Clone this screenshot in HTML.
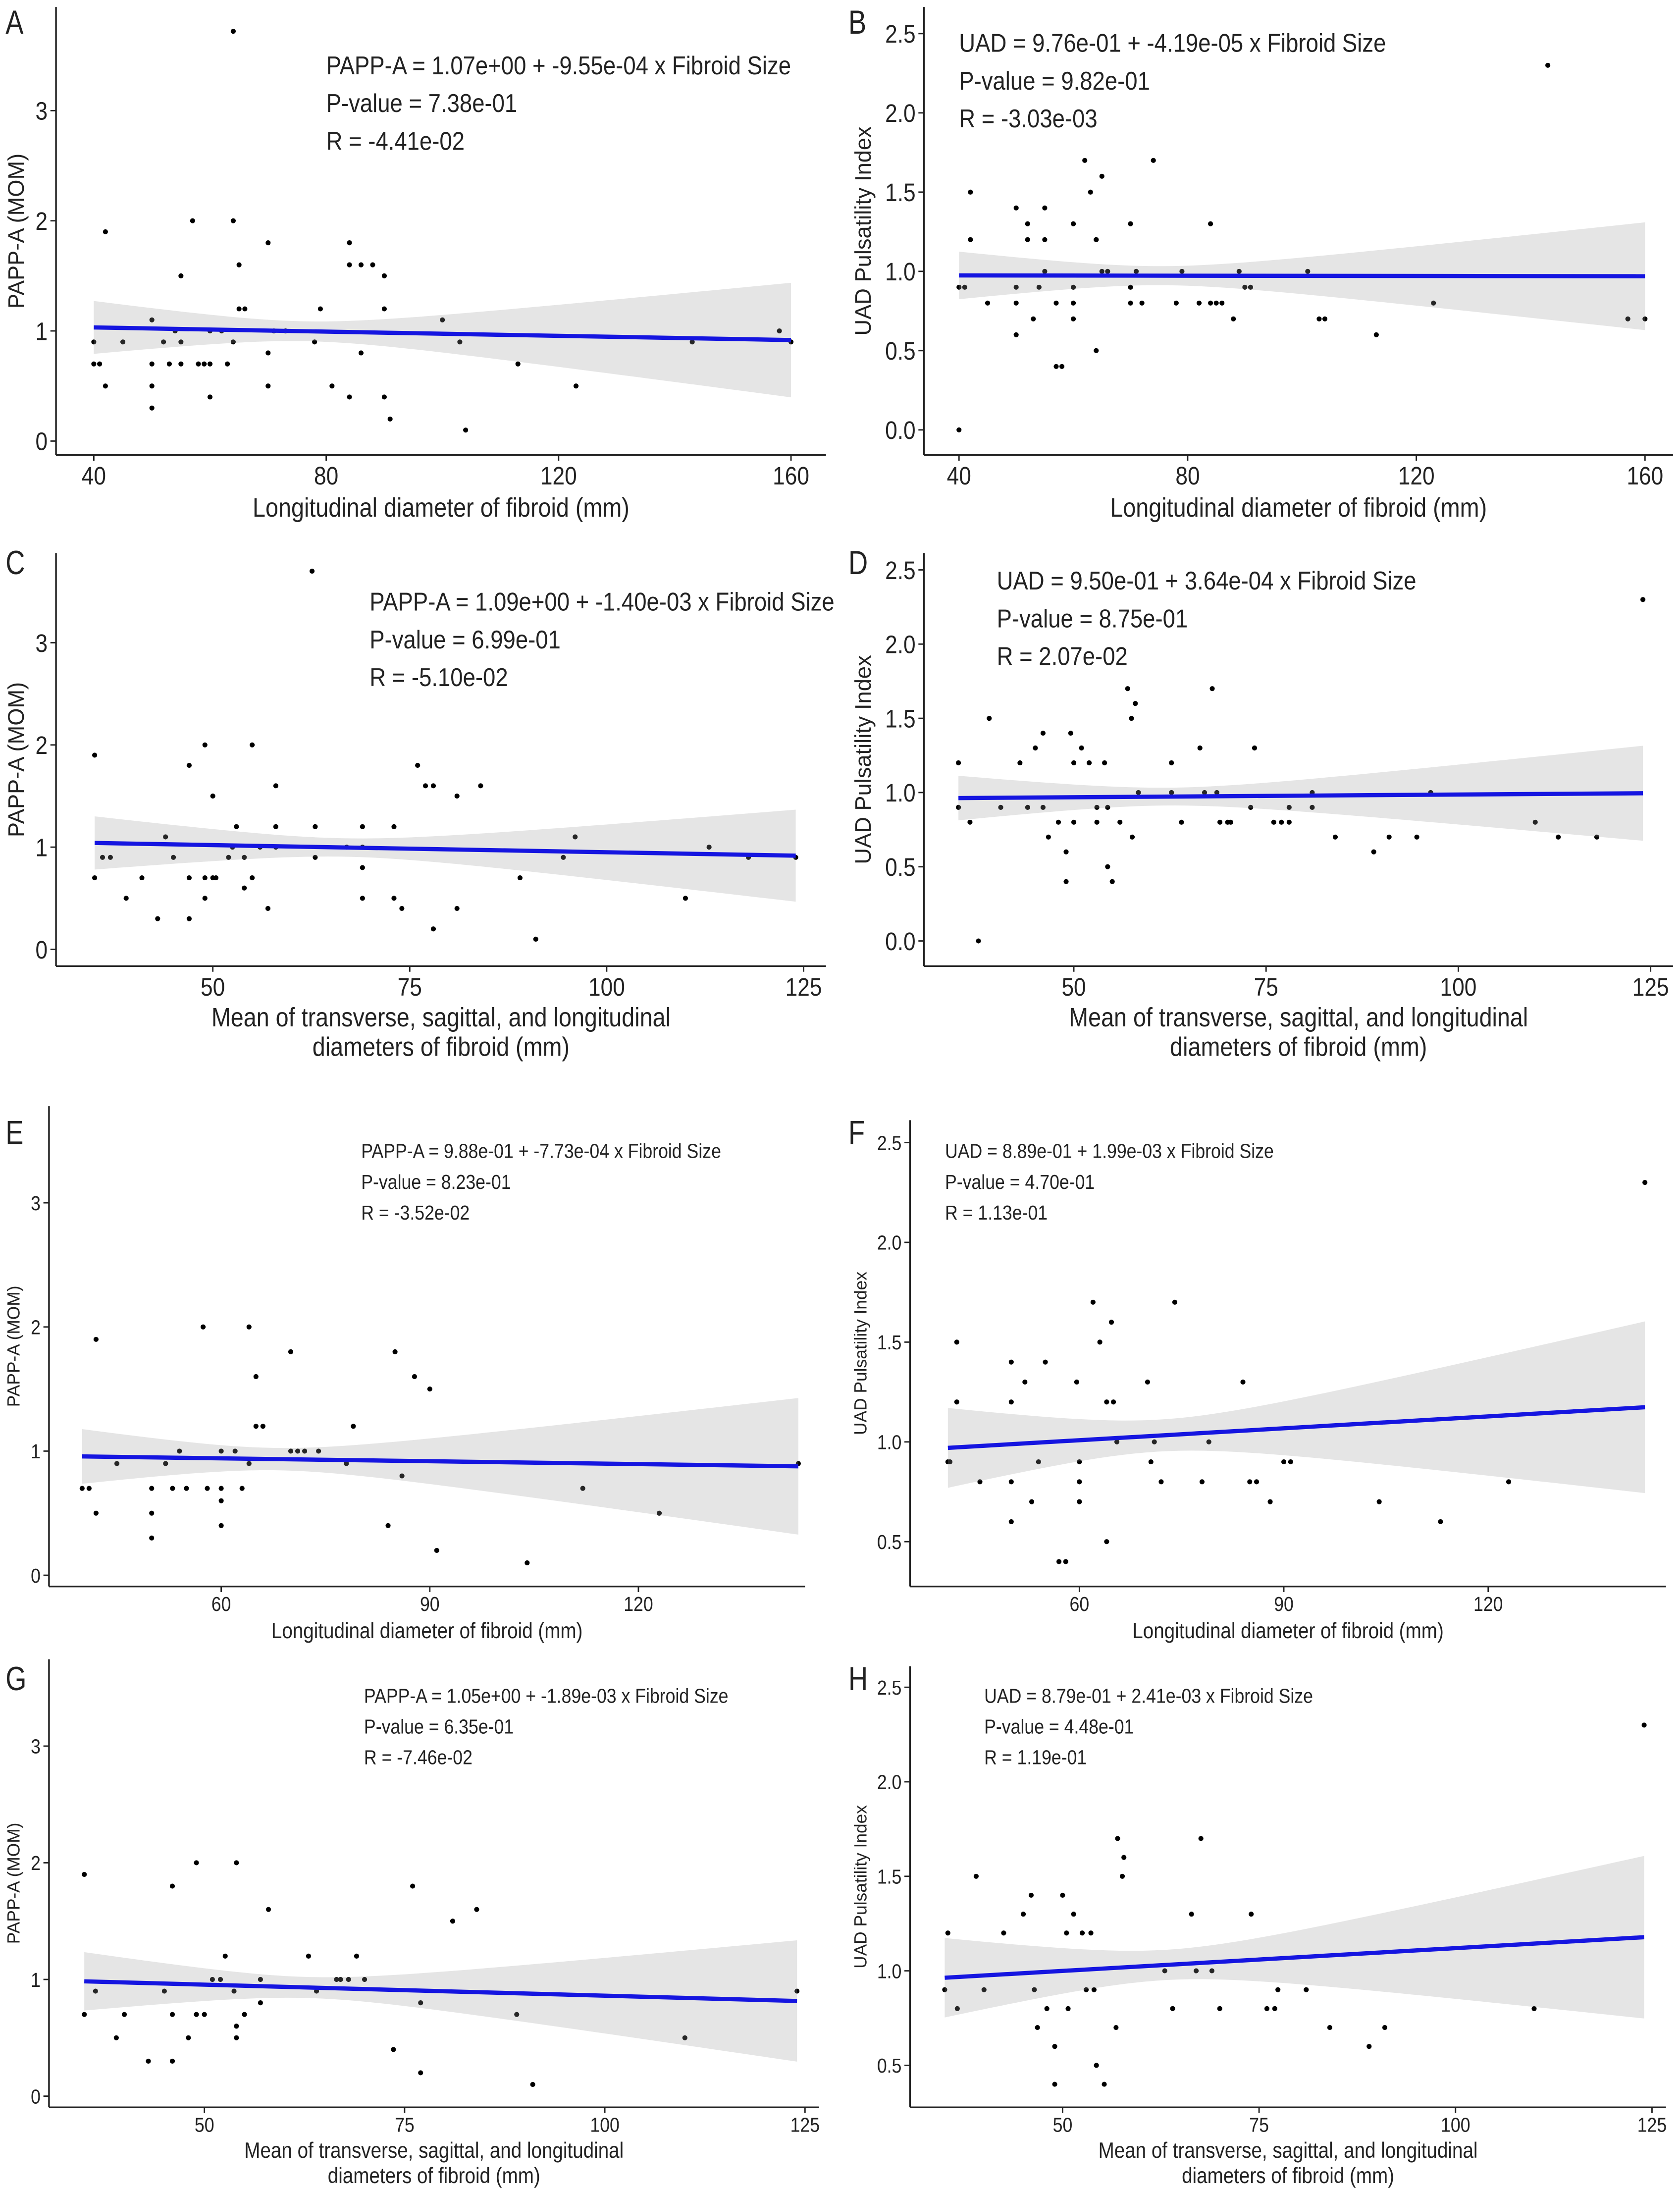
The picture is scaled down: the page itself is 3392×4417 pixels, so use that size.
<!DOCTYPE html>
<html><head><meta charset="utf-8"><style>
html,body{margin:0;padding:0;background:#fff;}
svg{display:block;}
text{font-family:"Liberation Sans Narrow","Liberation Sans",sans-serif;fill:#222;}
.yt{font-family:"Liberation Sans",sans-serif;}
</style></head><body>
<svg id="fig" xmlns="http://www.w3.org/2000/svg" width="3392" height="4417" viewBox="0 0 1200 1562.6" preserveAspectRatio="none"></svg>
<script>
// ---- data ----
const aX=[64,42,57,64,65,55,70,65,66,79,84,86,88,84,90,90,40,45,50,52,55,54,60,62,64,71,73,78,86,100,103,143,158,160,40,41,50,53,55,58,59,60,63,60,70,81,84,90,91,50,42,50,104,113,123,70];
const aY=[3.72,1.9,2.0,2.0,1.6,1.5,1.8,1.2,1.2,1.2,1.6,1.6,1.6,1.8,1.5,1.2,0.9,0.9,1.1,0.9,0.9,1.0,1.0,1.0,0.9,1.0,1.0,0.9,0.8,1.1,0.9,0.9,1.0,0.9,0.7,0.7,0.7,0.7,0.7,0.7,0.7,0.7,0.7,0.4,0.5,0.5,0.4,0.4,0.2,0.5,0.5,0.3,0.1,0.7,0.5,0.8];
const bX=[143,40,40,41,42,42,45,50,50,50,50,52,52,53,54,55,55,55,57,57,58,60,60,60,60,62,63,64,64,64,65,65,66,70,70,70,71,72,74,78,79,82,84,84,85,86,88,89,90,91,101,103,104,113,123,157,160];
const bY=[2.3,0.0,0.9,0.9,1.2,1.5,0.8,1.4,0.9,0.8,0.6,1.3,1.2,0.7,0.9,1.0,1.2,1.4,0.8,0.4,0.4,1.3,0.8,0.9,0.7,1.7,1.5,1.2,1.2,0.5,1.6,1.0,1.0,1.3,0.9,0.8,1.0,0.8,1.7,0.8,1.0,0.8,1.3,0.8,0.8,0.8,0.7,1.0,0.9,0.9,1.0,0.7,0.7,0.6,0.8,0.7,0.7];
const cX=[62.6,35,49,55,47,50,58,76,77,78,81,84,53,58,63,69,73,44,96,113,35,36,37,39,41,43,45,47,47,49,49,50,50.4,52,52.5,54,54,55,56,57,58,63,67,69,69,69,73,74,78,81,89,91,94.5,110,118,124];
const cY=[3.7,1.9,2.0,2.0,1.8,1.5,1.6,1.8,1.6,1.6,1.5,1.6,1.2,1.2,1.2,1.2,1.2,1.1,1.1,1.0,0.7,0.9,0.9,0.5,0.7,0.3,0.9,0.7,0.3,0.5,0.7,0.7,0.7,0.9,1.0,0.9,0.6,0.7,1.0,0.4,1.0,0.9,1.0,1.0,0.8,0.5,0.5,0.4,0.2,0.4,0.7,0.1,0.9,0.5,0.9,0.9];
const dX=[124,35,35,36.5,37.6,39,40.5,43,44,45,46,46,46.7,48,49,49,49.6,50,50,51,52,53,53,54,54.4,54.4,55,56,57,57.5,58,57.6,58.4,62.7,62.7,64,66.4,67,68,68.6,69,70,70.4,73.5,73,76,77,78,78,81,81,84,89,91,94.6,96.4,110,113,118];
const dY=[2.3,1.2,0.9,0.8,0.0,1.5,0.9,1.2,0.9,1.3,1.4,0.9,0.7,0.8,0.6,0.4,1.4,1.2,0.8,1.3,1.2,0.9,0.8,1.2,0.9,0.5,0.4,0.8,1.7,1.5,1.6,0.7,1.0,1.0,1.2,0.8,1.3,1.0,1.7,1.0,0.8,0.8,0.8,1.3,0.9,0.8,0.8,0.8,0.9,1.0,0.9,0.7,0.6,0.7,0.7,1.0,0.8,0.7,0.7];
const eX=[42,57.4,64,70,85,65,87.8,90,65,66,79,40,41,45,50,52,53,54,55,58,60,60,62,63,64,70,71,72,74,78,86,143,112,123,42,50,50,60,60,84,91,104];
const eY=[1.9,2.0,2.0,1.8,1.8,1.6,1.6,1.5,1.2,1.2,1.2,0.7,0.7,0.9,0.7,0.9,0.7,1.0,0.7,0.7,1.0,0.7,1.0,0.7,0.9,1.0,1.0,1.0,1.0,0.9,0.8,0.9,0.7,0.5,0.5,0.5,0.3,0.6,0.4,0.4,0.2,0.1];
const fX=[143,42,42,40.7,41,45.4,50,50,50,50,52,53,54,55,57,58,59.6,60,60,60,62,63,64,65,64.7,64,65.5,70,70.5,71,72,74,78,79,84,85,86,88,90,91,104,113,123];
const fY=[2.3,1.5,1.2,0.9,0.9,0.8,1.4,1.2,0.8,0.6,1.3,0.7,0.9,1.4,0.4,0.4,1.3,0.8,0.9,0.7,1.7,1.5,1.2,1.2,1.6,0.5,1.0,1.3,0.9,1.0,0.8,1.7,0.8,1.0,1.3,0.8,0.8,0.7,0.9,0.9,0.7,0.6,0.8];
const gX=[35,49,54,46,76,58,84,81,52.6,63,69,51,52,57,66.5,67,68,70,36.4,45,53.7,64,124,77,35,40,46,49,50,55,57,89,39,48,110,54,54,43,46,73.6,77,91];
const gY=[1.9,2.0,2.0,1.8,1.8,1.6,1.6,1.5,1.2,1.2,1.2,1.0,1.0,1.0,1.0,1.0,1.0,1.0,0.9,0.9,0.9,0.9,0.9,0.8,0.7,0.7,0.7,0.7,0.7,0.7,0.8,0.7,0.5,0.5,0.5,0.6,0.5,0.3,0.3,0.4,0.2,0.1];
const hX=[124,35.4,35,36.6,39,40,42.5,45,46,46.4,46.8,48,49,49,50,50.5,50.7,51.4,52.5,53,53.6,54,54.3,55.3,56.8,57,57.6,57.8,63,64,66.4,67,67.6,69,70,74,76,77,77.4,81,84,89,91,110];
const hY=[2.3,1.2,0.9,0.8,1.5,0.9,1.2,1.3,1.4,0.9,0.7,0.8,0.6,0.4,1.4,1.2,0.8,1.3,1.2,0.9,1.2,0.9,0.5,0.4,0.7,1.7,1.5,1.6,1.0,0.8,1.3,1.0,1.7,1.0,0.8,1.3,0.8,0.8,0.9,0.9,0.7,0.6,0.7,0.8];
// regression [intercept, slope]
const fitA=[1.07,-9.55e-4], fitB=[0.976,-4.19e-5], fitC=[1.09,-1.40e-3], fitD=[0.950,3.64e-4];
const fitE=[0.988,-7.73e-4], fitF=[0.889,1.99e-3], fitG=[1.05,-1.89e-3], fitH=[0.879,2.41e-3];
// confidence band half-widths [left, minimum, right]
const bandA=[0.24,0.09,0.52], bandB=[0.15,0.06,0.34], bandC=[0.26,0.09,0.45], bandD=[0.15,0.06,0.32];
const bandE=[0.22,0.09,0.55], bandF=[0.2,0.08,0.43], bandG=[0.25,0.09,0.52], bandH=[0.21,0.08,0.43];
// ticks
const xTicksA=[40,80,120,160], yTicksA=[0,1,2,3];
const xTicksB=[40,80,120,160], yTicksB=[0,0.5,1,1.5,2,2.5];
const xTicksC=[50,75,100,125], yTicksC=[0,1,2,3];
const xTicksD=[50,75,100,125], yTicksD=[0,0.5,1,1.5,2,2.5];
const xTicksE=[60,90,120], yTicksE=[0,1,2,3];
const xTicksF=[60,90,120], yTicksF=[0.5,1,1.5,2,2.5];
const xTicksG=[50,75,100,125], yTicksG=[0,1,2,3];
const xTicksH=[50,75,100,125], yTicksH=[0.5,1,1.5,2,2.5];

const NS='http://www.w3.org/2000/svg';
const svg=document.getElementById('fig');
const SX=0.87;
function mk(tag,attrs,parent){const e=document.createElementNS(NS,tag);for(const k in attrs)e.setAttribute(k,attrs[k]);(parent||svg).appendChild(e);return e;}
function tx(x,y,attrs,parent,sx){const t=mk('text',attrs,parent);t.setAttribute('transform','translate('+x+' '+y+') scale('+(sx||SX)+' 1)');return t;}

const T='PAPP-A (MOM)', U='UAD Pulsatility Index';
const L1='Longitudinal diameter of fibroid (mm)';
const L2=['Mean of transverse, sagittal, and longitudinal','diameters of fibroid (mm)'];
const panels=[
 {k:'a',x:aX,y:aY,fit:fitA,band:bandA,xt:xTicksA,yt:yTicksA,L:40,R:590,T:5,B:325,xm:[40,67,160,565],ym:[0,315,3,79],fs:18,xfs:19,yfmt:0,
  eq:['PAPP-A =  1.07e+00 + -9.55e-04 x Fibroid Size','P-value =  7.38e-01','R =  -4.41e-02'],eqX:233,eqY:[53,80,107],eqFs:17,
  xl:[L1],xlY:[369],ylab:T,ylX:17,lt:'A',lx:4,ly:24},
 {k:'b',x:bX,y:bY,fit:fitB,band:bandB,xt:xTicksB,yt:yTicksB,L:660,R:1195,T:5,B:325,xm:[40,685,160,1175],ym:[0,307,2.5,24],fs:18,xfs:19,yfmt:1,
  eq:['UAD =  9.76e-01 + -4.19e-05 x Fibroid Size','P-value =  9.82e-01','R =  -3.03e-03'],eqX:685,eqY:[37,64,91],eqFs:17,
  xl:[L1],xlY:[369],ylab:U,ylX:622,lt:'B',lx:606,ly:24},
 {k:'c',x:cX,y:cY,fit:fitC,band:bandC,xt:xTicksC,yt:yTicksC,L:40,R:590,T:395,B:690,xm:[50,152,125,574],ym:[0,678,3,459],fs:18,xfs:19,yfmt:0,
  eq:['PAPP-A =  1.09e+00 + -1.40e-03 x Fibroid Size','P-value =  6.99e-01','R =  -5.10e-02'],eqX:264,eqY:[436,463,490],eqFs:17,
  xl:L2,xlY:[733,754],ylab:T,ylX:17,lt:'C',lx:4,ly:410},
 {k:'d',x:dX,y:dY,fit:fitD,band:bandD,xt:xTicksD,yt:yTicksD,L:660,R:1195,T:395,B:690,xm:[50,767,125,1179],ym:[0,672,2.5,407],fs:18,xfs:19,yfmt:1,
  eq:['UAD =  9.50e-01 + 3.64e-04 x Fibroid Size','P-value =  8.75e-01','R =  2.07e-02'],eqX:712,eqY:[421,448,475],eqFs:17,
  xl:L2,xlY:[733,754],ylab:U,ylX:622,lt:'D',lx:606,ly:410},
 {k:'e',x:eX,y:eY,fit:fitE,band:bandE,xt:xTicksE,yt:yTicksE,L:35,R:575,T:790,B:1133,xm:[60,158,120,456],ym:[0,1125,3,859],fs:14.5,xfs:15.7,yfmt:0,
  eq:['PAPP-A =  9.88e-01 + -7.73e-04 x Fibroid Size','P-value =  8.23e-01','R =  -3.52e-02'],eqX:258,eqY:[827,849,871],eqFs:14.5,
  xl:[L1],xlY:[1170],ylab:T,ylX:14,lt:'E',lx:4,ly:817},
 {k:'f',x:fX,y:fY,fit:fitF,band:bandF,xt:xTicksF,yt:yTicksF,L:650,R:1190,T:800,B:1133,xm:[60,771,120,1063],ym:[0.5,1101,2.5,816],fs:14.5,xfs:15.7,yfmt:1,
  eq:['UAD =  8.89e-01 + 1.99e-03 x Fibroid Size','P-value =  4.70e-01','R =  1.13e-01'],eqX:675,eqY:[827,849,871],eqFs:14.5,
  xl:[L1],xlY:[1170],ylab:U,ylX:619,lt:'F',lx:606,ly:817},
 {k:'g',x:gX,y:gY,fit:fitG,band:bandG,xt:xTicksG,yt:yTicksG,L:35,R:585,T:1185,B:1505,xm:[50,146,125,575],ym:[0,1497,3,1247],fs:14.5,xfs:15.7,yfmt:0,
  eq:['PAPP-A =  1.05e+00 + -1.89e-03 x Fibroid Size','P-value =  6.35e-01','R =  -7.46e-02'],eqX:260,eqY:[1216,1238,1260],eqFs:14.5,
  xl:L2,xlY:[1541,1559],ylab:T,ylX:14,lt:'G',lx:4,ly:1207},
 {k:'h',x:hX,y:hY,fit:fitH,band:bandH,xt:xTicksH,yt:yTicksH,L:650,R:1190,T:1190,B:1505,xm:[50,759,125,1180],ym:[0.5,1475,2.5,1205],fs:14.5,xfs:15.7,yfmt:1,
  eq:['UAD =  8.79e-01 + 2.41e-03 x Fibroid Size','P-value =  4.48e-01','R =  1.19e-01'],eqX:703,eqY:[1216,1238,1260],eqFs:14.5,
  xl:L2,xlY:[1541,1559],ylab:U,ylX:619,lt:'H',lx:606,ly:1207}
];

panels.forEach(p=>{
 const g=mk('g',{});
 
 
 const sx=v=>p.xm[1]+(v-p.xm[0])*(p.xm[3]-p.xm[1])/(p.xm[2]-p.xm[0]);
 const sy=v=>p.ym[1]+(v-p.ym[0])*(p.ym[3]-p.ym[1])/(p.ym[2]-p.ym[0]);
 const x0=Math.min(...p.x), x1=Math.max(...p.x);
 for(let i=0;i<p.x.length;i++){
  const c=mk('circle',{cx:sx(p.x[i]),cy:sy(p.y[i]),r:1.8,fill:'#000'},g);
  
  
 }
 const [wl,w0,wr]=p.band;
 const a=Math.sqrt(Math.max(wl*wl-w0*w0,1e-9)), b=Math.sqrt(Math.max(wr*wr-w0*w0,1e-9));
 const m=(a*x1+b*x0)/(a+b), kk=(wl*wl-w0*w0)/((x0-m)*(x0-m));
 const f=v=>p.fit[0]+p.fit[1]*v, hw=v=>Math.sqrt(w0*w0+kk*(v-m)*(v-m));
 let up=[],lo=[];
 for(let i=0;i<=60;i++){const v=x0+(x1-x0)*i/60;up.push(sx(v)+','+sy(f(v)+hw(v)));lo.unshift(sx(v)+','+sy(f(v)-hw(v)));}
 const band=mk('polygon',{points:up.concat(lo).join(' '),fill:'#999',opacity:0.25},g);
 
 
 const ln=mk('line',{x1:sx(x0),y1:sy(f(x0)),x2:sx(x1),y2:sy(f(x1)),stroke:'#1515e0','stroke-width':3},g);
 
 
 const ya=mk('line',{x1:p.L,y1:p.T,x2:p.L,y2:p.B,stroke:'#222','stroke-width':1.2},g);
 
 
 const xa=mk('line',{x1:p.L,y1:p.B,x2:p.R,y2:p.B,stroke:'#222','stroke-width':1.2},g);
 
 
 p.xt.forEach(v=>{
  mk('line',{x1:sx(v),y1:p.B,x2:sx(v),y2:p.B+4,stroke:'#222','stroke-width':1},g);
  const t=tx(sx(v),p.B+p.fs+3,{'text-anchor':'middle','font-size':p.fs},g);
  t.textContent=String(v);
  
  
 });
 p.yt.forEach(v=>{
  mk('line',{x1:p.L-4,y1:sy(v),x2:p.L,y2:sy(v),stroke:'#222','stroke-width':1},g);
  const t=tx(p.L-6,sy(v)+p.fs*0.36,{'text-anchor':'end','font-size':p.fs},g);
  t.textContent=p.yfmt?v.toFixed(1):String(v);
  
  
 });
 p.eq.forEach((s,i)=>{
  const t=tx(p.eqX,p.eqY[i],{'font-size':p.eqFs+(p.eqFs>15?1.5:0)},g);
  t.textContent=s;
  
  
 });
 const cx=(p.L+p.R)/2;
 p.xl.forEach((s,i)=>{
  const t=tx(cx,p.xlY[i],{'text-anchor':'middle','font-size':p.xfs},g);
  t.textContent=s;
  
  
 });
 const cy=(p.T+p.B)/2;
 const yl=mk('text',{x:p.ylX,y:cy,'text-anchor':'middle','font-size':p.fs-2,class:'yt',transform:'rotate(-90 '+p.ylX+' '+cy+')'},g);
 yl.textContent=p.ylab;
 
 
 const lt=tx(p.lx,p.ly,{'font-size':24},g,0.8);
 lt.textContent=p.lt;
 
 
});
</script>
</body></html>
